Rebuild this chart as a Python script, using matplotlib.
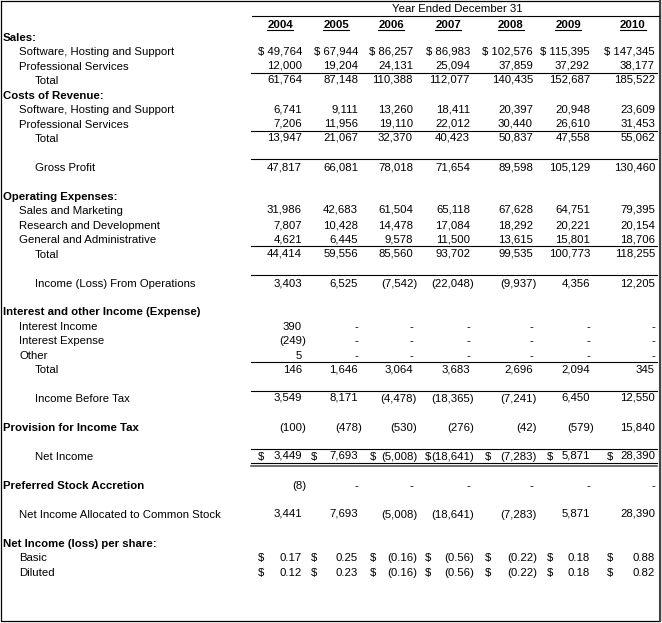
import numpy as np
import matplotlib.pyplot as plt

plt.rcParams['font.family'] = ['Liberation Sans', 'DejaVu Sans']

years = ["2004", "2005", "2006", "2007", "2008", "2009", "2010"]

sales_software = [49764, 67944, 86257, 86983, 102576, 115395, 147345]
sales_prof = [12000, 19204, 24131, 25094, 37859, 37292, 38177]
sales_total = [61764, 87148, 110388, 112077, 140435, 152687, 185522]
cost_software = [6741, 9111, 13260, 18411, 20397, 20948, 23609]
cost_prof = [7206, 11956, 19110, 22012, 30440, 26610, 31453]
cost_total = [13947, 21067, 32370, 40423, 50837, 47558, 55062]
gross_profit = [47817, 66081, 78018, 71654, 89598, 105129, 130460]
opex_sales = [31986, 42683, 61504, 65118, 67628, 64751, 79395]
opex_rd = [7807, 10428, 14478, 17084, 18292, 20221, 20154]
opex_ga = [4621, 6445, 9578, 11500, 13615, 15801, 18706]
opex_total = [44414, 59556, 85560, 93702, 99535, 100773, 118255]
income_ops = [3403, 6525, -7542, -22048, -9937, 4356, 12205]
int_income = [390, None, None, None, None, None, None]
int_expense = [-249, None, None, None, None, None, None]
other_income = [5, None, None, None, None, None, None]
other_total = [146, 1646, 3064, 3683, 2696, 2094, 345]
income_before_tax = [3549, 8171, -4478, -18365, -7241, 6450, 12550]
provision_tax = [-100, -478, -530, -276, -42, -579, 15840]
net_income = [3449, 7693, -5008, -18641, -7283, 5871, 28390]
pref_accretion = [-8, None, None, None, None, None, None]
net_common = [3441, 7693, -5008, -18641, -7283, 5871, 28390]
eps_basic = [0.17, 0.25, -0.16, -0.56, -0.22, 0.18, 0.88]
eps_diluted = [0.12, 0.23, -0.16, -0.56, -0.22, 0.18, 0.82]

# layout (pixels)
W, H = 662, 623
col_right = [302, 358, 413, 470, 533, 590, 655]
dollar_x = [258, 311, 370, 425, 485, 547, 607]
indent_x = [3, 19, 35]
FS = 8.2


def row_y(r):
    return round(8 + 14.45 * r)


def fmt(v, dec=0):
    if v is None:
        return "-"
    s = f"{abs(v):,.{dec}f}"
    return f"({s})" if v < 0 else s


# (row, label, indent, bold, values, style, decimals)
rows = [
    (2, "Sales:", 0, True, None, None, 0),
    (3, "Software, Hosting and Support", 1, False, sales_software, "inline", 0),
    (4, "Professional Services", 1, False, sales_prof, None, 0),
    (5, "Total", 2, False, sales_total, None, 0),
    (6, "Costs of Revenue:", 0, True, None, None, 0),
    (7, "Software, Hosting and Support", 1, False, cost_software, None, 0),
    (8, "Professional Services", 1, False, cost_prof, None, 0),
    (9, "Total", 2, False, cost_total, None, 0),
    (11, "Gross Profit", 2, False, gross_profit, None, 0),
    (13, "Operating Expenses:", 0, True, None, None, 0),
    (14, "Sales and Marketing", 1, False, opex_sales, None, 0),
    (15, "Research and Development", 1, False, opex_rd, None, 0),
    (16, "General and Administrative", 1, False, opex_ga, None, 0),
    (17, "Total", 2, False, opex_total, None, 0),
    (19, "Income (Loss) From Operations", 2, False, income_ops, None, 0),
    (21, "Interest and other Income (Expense)", 0, True, None, None, 0),
    (22, "Interest Income", 1, False, int_income, None, 0),
    (23, "Interest Expense", 1, False, int_expense, None, 0),
    (24, "Other", 1, False, other_income, None, 0),
    (25, "Total", 2, False, other_total, None, 0),
    (27, "Income Before Tax", 2, False, income_before_tax, None, 0),
    (29, "Provision for Income Tax", 0, True, provision_tax, None, 0),
    (31, "Net Income", 2, False, net_income, "left", 0),
    (33, "Preferred Stock Accretion", 0, True, pref_accretion, None, 0),
    (35, "Net Income Allocated to Common Stock", 1, False, net_common, None, 0),
    (37, "Net Income (loss) per share:", 0, True, None, None, 0),
    (38, "Basic", 1, False, eps_basic, "left", 2),
    (39, "Diluted", 1, False, eps_diluted, "left", 2),
]
line_rows = [4, 8, 10, 16, 18, 24, 26, 30]

# collect every text item first
texts = []


def put(x, y, s, ha='left', weight='normal'):
    texts.append(dict(x=x, y=y, s=s, ha=ha, weight=weight))


put(457, row_y(0) + 4, "Year Ended December 31", ha='center')
for i, yr in enumerate(years):
    put(col_right[i] - 22, 28, yr, ha='center', weight='bold')
for r, label, ind, bold, vals, style, dec in rows:
    y = row_y(r) + 4
    put(indent_x[ind], y, label, weight='bold' if bold else 'normal')
    if vals is None:
        continue
    for i, v in enumerate(vals):
        s = fmt(v, dec)
        x = col_right[i] + (4 if v is not None and v < 0 else 0)
        if style == "inline":
            s = "$ " + s
        elif style == "left":
            put(dollar_x[i], y, "$")
        put(x, y, s, ha='right')


def new_fig():
    fig = plt.figure(figsize=(W / 100, H / 100), dpi=100)
    ax = fig.add_axes([0, 0, 1, 1])
    ax.set_xlim(0, W)
    ax.set_ylim(H, 0)
    ax.axis('off')
    return fig, ax


def add_text(ax, t, dy=0):
    return ax.text(t['x'], t['y'] + dy, t['s'], ha=t['ha'], va='baseline',
                   fontsize=FS, fontweight=t['weight'])


# scratch render: Agg snaps each string a little differently, so find where
# each baseline actually lands and shift it back in line
fig0, ax0 = new_fig()
objs = [add_text(ax0, t) for t in texts]
fig0.canvas.draw()
ren0 = fig0.canvas.get_renderer()
img = np.asarray(fig0.canvas.buffer_rgba())[..., :3].astype(float)
ink = 765 - img.sum(axis=2)
offs = []
for t, o in zip(texts, objs):
    # too few glyphs to find a baseline reliably (dashes, "$", "(8)", "5")
    if sum(ch.isalnum() for ch in t['s']) < 3:
        offs.append(None)
        continue
    bb = o.get_window_extent(ren0)
    c0, c1 = int(np.floor(bb.x0)), int(np.ceil(bb.x1))
    top, bot = int(np.floor(H - bb.y1)), int(np.ceil(H - bb.y0))
    prof = ink[max(top, 0):bot + 1, c0:c1 + 1].sum(axis=1)
    heavy = np.nonzero(prof >= 0.35 * prof.max())[0]
    offs.append(max(top, 0) + heavy[-1] - round(t['y']))
plt.close(fig0)
target = int(np.median([o for o in offs if o is not None]))

fig, ax = new_fig()

# outer frame
ax.plot([1, 659.5, 659.5, 1, 1], [1, 1, 621, 621, 1], color='black', lw=0.9,
        solid_joinstyle='miter')
ax.plot([659.5, 659.5], [1, 621], color='#444444', lw=1.5)
ax.plot([252, 659], [16, 16], color='black', lw=0.8)

fig.canvas.draw()
renderer = fig.canvas.get_renderer()
for t, o in zip(texts, offs):
    dy = 0 if o is None else target - o
    tx = add_text(ax, t, dy)
    if t['s'] in years:
        bb = tx.get_window_extent(renderer).transformed(ax.transData.inverted())
        ax.plot([bb.x0, bb.x1], [30, 30], color='black', lw=0.8)

for r in line_rows:
    yl = row_y(r) + 7
    ax.plot([251, 657], [yl, yl], color='black', lw=0.8)

# double line under net income
yd = row_y(31) + 7
ax.plot([251, 657], [yd, yd], color='black', lw=0.8)
ax.plot([251, 657], [yd + 2.5, yd + 2.5], color='#555555', lw=1.2)

fig.savefig("out.png", dpi=100)
